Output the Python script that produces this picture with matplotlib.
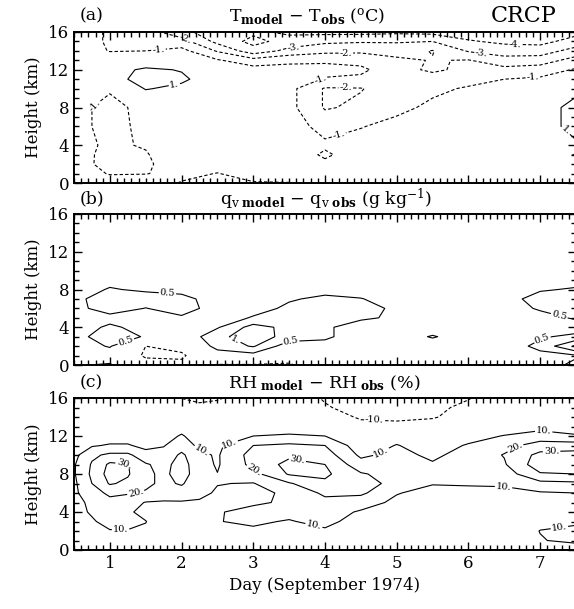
import matplotlib
matplotlib.use('Agg')
import matplotlib.pyplot as plt
import numpy as np
from matplotlib.ticker import MultipleLocator

plt.rcParams['font.family'] = 'DejaVu Serif'
plt.rcParams['mathtext.fontset'] = 'dejavuserif'
plt.rcParams['lines.dashed_pattern'] = [3, 2]

# (a) T_model - T_obs (C), one height profile per day column
days_a = [0.5, 1.0, 1.5, 2.0, 2.5, 3.0, 3.5, 4.0, 4.5, 5.0, 5.5, 6.0, 6.5, 7.0, 7.5]
heights_a = [0, 1, 2, 3, 4, 6, 8, 10, 11, 12, 13, 14, 15, 16]
temp_a = [
    [0.0, -0.2, -0.5, -0.6, -0.6, -0.6, -0.6, -0.3, 0.0, 0.1, -0.1, -0.4, -0.6, -0.8],
    [-0.3, -1.1, -1.4, -1.3, -1.2, -1.4, -1.4, -0.85, 0.4, 0.3, -0.4, -1.05, -1.1, -1.05],
    [-0.2, -1.05, -1.2, -1.1, -0.9, -0.7, -0.6, 1.1, 1.6, 1.3, -0.2, -1.0, -1.3, -1.6],
    [-1.1, -0.6, -0.3, -0.1, 0.0, 0.0, 0.0, 0.6, 1.3, 0.9, -0.3, -0.7, -1.6, -2.6],
    [-1.15, -1.05, -0.4, -0.1, 0.0, 0.0, 0.0, 0.0, 0.0, -0.4, -0.9, -2.1, -3.3, -3.8],
    [-1.1, -0.4, -0.2, 0.0, 0.0, 0.0, 0.0, -0.2, -0.3, -0.6, -1.6, -3.6, -4.3, -3.8],
    [-1.05, -0.3, -0.3, -0.4, -0.4, -0.6, -0.7, -0.7, -0.6, -0.7, -1.2, -2.7, -3.6, -4.2],
    [-0.3, -0.5, -0.8, -1.15, -0.85, -1.3, -2.1, -2.1, -1.05, -0.8, -1.1, -2.3, -3.2, -4.3],
    [-0.2, -0.3, -0.4, -0.5, -0.6, -1.05, -1.8, -2.05, -1.2, -0.8, -1.3, -2.2, -3.1, -4.3],
    [-0.1, -0.1, -0.2, -0.3, -0.4, -0.7, -1.25, -1.5, -1.5, -1.6, -1.8, -2.4, -3.1, -4.2],
    [0.0, 0.0, -0.1, -0.2, -0.2, -0.4, -0.8, -1.2, -1.5, -2.2, -2.05, -1.95, -3.0, -4.3],
    [0.0, 0.0, -0.1, -0.1, -0.2, -0.3, -0.5, -0.9, -1.3, -1.7, -1.95, -3.1, -3.9, -4.5],
    [0.0, 0.0, 0.0, -0.1, -0.1, -0.2, -0.4, -0.7, -1.0, -1.7, -2.6, -3.5, -4.2, -4.6],
    [0.0, 0.0, -0.1, -0.3, 0.2, 0.3, 0.3, -0.6, -0.85, -1.5, -2.5, -3.5, -4.3, -4.6],
    [0.0, 0.0, -0.4, -1.1, 0.8, 1.5, 1.5, 0.6, 0.0, -0.9, -1.6, -2.6, -3.6, -4.3],
]

# (b) qv_model - qv_obs (g/kg)
days_b = [0.5, 1.0, 1.5, 2.0, 2.5, 3.0, 3.5, 4.0, 4.5, 5.0, 5.5, 6.0, 6.5, 7.0, 7.5]
heights_b = [0, 1, 2, 3, 4, 5, 6, 7, 8, 10, 16]
qv_b = [
    [0.45, 0.1, 0.2, 0.3, 0.2, 0.2, 0.3, 0.3, 0.2, 0.0, 0.0],
    [0.56, 0.2, 0.55, 0.8, 0.6, 0.3, 0.8, 0.9, 0.55, 0.1, 0.0],
    [-0.2, -0.6, -0.5, 0.45, 0.3, 0.2, 0.48, 0.8, 0.4, 0.1, 0.0],
    [-0.35, -0.6, -0.3, 0.1, 0.2, 0.4, 0.8, 0.7, 0.3, 0.0, 0.0],
    [-0.55, 0.2, 0.7, 0.85, 0.45, 0.2, 0.2, 0.2, 0.1, 0.0, 0.0],
    [-0.55, 0.3, 1.05, 1.3, 1.2, 0.55, 0.3, 0.2, 0.1, 0.0, 0.0],
    [-0.6, -0.1, 0.2, 0.8, 0.85, 0.8, 0.6, 0.45, 0.2, 0.0, 0.0],
    [0.1, 0.2, 0.3, 0.6, 0.55, 0.7, 0.8, 0.6, 0.35, 0.0, 0.0],
    [0.1, 0.1, 0.2, 0.2, 0.35, 0.55, 0.7, 0.52, 0.3, 0.0, 0.0],
    [0.1, 0.1, 0.2, 0.2, 0.3, 0.45, 0.4, 0.3, 0.2, 0.0, 0.0],
    [0.1, 0.1, 0.2, 0.55, 0.2, 0.2, 0.2, 0.2, 0.1, 0.0, 0.0],
    [0.1, 0.1, 0.1, 0.2, 0.1, 0.1, 0.2, 0.2, 0.1, 0.0, 0.0],
    [0.2, 0.2, 0.3, 0.2, 0.1, 0.2, 0.3, 0.3, 0.2, 0.0, 0.0],
    [0.3, 0.4, 0.6, 0.45, 0.3, 0.35, 0.55, 0.7, 0.45, 0.1, 0.0],
    [0.6, 0.45, 1.6, 0.6, 0.3, 0.55, 0.7, 0.8, 0.55, 0.1, 0.0],
]

# (c) RH_model - RH_obs (%)
days_c = [0.5, 0.75, 1.0, 1.25, 1.5, 1.75, 2.0, 2.25, 2.5, 3.0, 3.5, 4.0,
          4.5, 5.0, 5.5, 6.0, 6.5, 7.0, 7.5]
heights_c = [0, 1, 2, 3, 4, 5, 6, 7, 8, 9, 10, 11, 12, 13, 14, 15, 16]
rh_c = [
    [2, 3, 4, 6, 7, 7, 8, 8, 9, 9, 7, 4, 2, 0, 0, -2, -3],
    [2, 4, 6, 9, 11, 12, 16, 20, 22, 21, 18, 9, 4, 1, 0, -2, -3],
    [3, 6, 9.5, 13, 15, 17, 22, 31, 34, 32, 22, 11, 5, 2, 0, -2, -3],
    [2, 5, 9.5, 13, 11, 14, 21, 28, 31, 30.5, 22, 11, 5, 2, 0, -2, -3],
    [2, 5, 9, 10.2, 8, 9.5, 19, 22, 22, 21, 14, 7, 3, 1, 0, -2, -3],
    [2, 3, 4, 6, 7, 9, 15, 18, 18, 17, 13, 9.5, 6, 3, 0, -2, -3],
    [2, 3, 4, 5, 7, 9, 16, 21, 24, 24, 22, 15, 11, 6, 2, -4, -10.3],
    [2, 3, 4, 5, 7, 9, 12, 14, 15, 14, 12, 8, 5, 2, 0, -8, -12],
    [2, 4, 9.5, 9.8, 9.5, 8, 9, 10.3, 10.2, 9, 9, 8, 6, 3, 0, -7, -11],
    [2, 4, 9, 11, 12, 9, 7, 9.5, 17, 23, 24, 20, 10, 5, 2, -2, -5],
    [2, 4, 7, 9.5, 12, 11, 12, 19, 31, 33, 28, 22, 11, 6, 2, -2, -4],
    [3, 6, 9, 12, 14, 17, 22, 28, 32, 30, 25, 20, 10, 4, -2, -9, -11],
    [2, 3, 5, 7, 9, 14, 22, 28, 21, 14, 8, 4, 1, -5, -12, -14, -14],
    [1, 2, 3, 4, 6, 8, 10.5, 14, 16, 15, 13, 10.5, 6, -6, -13, -15, -15],
    [0, 1, 2, 3, 4, 5, 7, 10.5, 13, 11, 8, 5, 2, -5, -11, -12, -12],
    [0, 1, 2, 3, 4, 5, 7, 11, 14, 15, 14, 11, 6, 0, -5, -8, -10.5],
    [2, 3, 4, 5, 5, 6, 8, 11, 15, 19, 20.5, 17, 10.5, 4, 0, -3, -5],
    [6, 9.5, 10.2, 8, 6, 7, 9, 17, 29, 36, 33, 24, 15, 6, 2, -2, -6],
    [5, 12, 13, 8, 5, 6, 10, 18, 30, 36, 34, 25, 11, 5, 0, -6, -10.5],
]

levels_a = [-6, -5, -4, -3, -2, -1, 1, 2, 3]
levels_b = [-1.0, -0.5, 0.5, 1.0, 1.5]
levels_c = [-30, -20, -10, 10, 20, 30, 40]

# where the contour labels sit (day, km)
labels_a = [(1.67, 14.8), (2.04, 15.1), (3.56, 14.4), (4.29, 14.2), (6.18, 13.6),
            (6.65, 14.65), (1.9, 10.4), (0.8, 8.1), (3.93, 11.1), (4.29, 10.0),
            (4.15, 6.2), (6.9, 10.9), (7.28, 4.9)]
labels_b = [(1.8, 7.2), (1.24, 2.1), (2.72, 2.2), (3.52, 2.9), (7.28, 5.6),
            (7.02, 3.0)]
labels_c = [(1.2, 9.2), (1.36, 6.1), (1.15, 2.0), (2.27, 10.3), (2.67, 11.2),
            (3.02, 8.5), (3.6, 8.8), (3.84, 2.4), (4.85, 9.3), (4.69, 13.8),
            (7.05, 12.56), (6.65, 10.8), (7.16, 10.3), (6.49, 6.77), (7.28, 1.7)]


def fmt(v):
    if float(v).is_integer():
        return '%d.' % v
    return '%g' % v


fig = plt.figure(figsize=(5.74, 6.09), dpi=100)
left, width = 74 / 574, 502 / 574
ax_a = fig.add_axes([left, 1 - 183 / 609, width, 151 / 609])
ax_b = fig.add_axes([left, 1 - 365 / 609, width, 151 / 609])
ax_c = fig.add_axes([left, 1 - 550 / 609, width, 152 / 609])

panels = [
    (ax_a, days_a, heights_a, temp_a, levels_a, labels_a),
    (ax_b, days_b, heights_b, qv_b, levels_b, labels_b),
    (ax_c, days_c, heights_c, rh_c, levels_c, labels_c),
]

for ax, dd, hts, cols, lev, lab in panels:
    z = np.array(cols, dtype=float).T
    styles = ['dashed' if l < 0 else 'solid' for l in lev]
    cs = ax.contour(dd, hts, z, levels=lev, colors='black',
                    linewidths=0.8, linestyles=styles)
    ax.clabel(cs, fmt=fmt, fontsize=7, inline=True, inline_spacing=1, manual=lab)

    ax.set_xlim(0.5, 7.5)
    ax.set_ylim(0, 16)
    ax.set_yticks([0, 4, 8, 12, 16])
    ax.yaxis.set_minor_locator(MultipleLocator(1))
    ax.set_xticks(range(1, 8))
    ax.xaxis.set_minor_locator(MultipleLocator(0.1))
    ax.tick_params(which='both', direction='in', top=True, right=True, width=1)
    ax.tick_params(which='major', length=6, labelsize=12)
    ax.tick_params(which='minor', length=3.5)
    for s in ax.spines.values():
        s.set_linewidth(1.4)
    ax.set_ylabel('Height (km)', fontsize=12, labelpad=4)

ax_a.set_xticklabels([])
ax_b.set_xticklabels([])
ax_c.set_xlabel('Day (September 1974)', fontsize=12, labelpad=4)

# panel titles
fig.text(80 / 574, 1 - 16 / 609, '(a)', fontsize=12.5, va='center', ha='left')
fig.text(307 / 574, 1 - 16 / 609,
         r'T$_{\mathbf{model}}$ $-$ T$_{\mathbf{obs}}$ ($^{\rm o}$C)',
         fontsize=12.5, va='center', ha='center')
fig.text(524 / 574, 1 - 16 / 609, 'CRCP', fontsize=16, va='center', ha='center')

fig.text(80 / 574, 1 - 199 / 609, '(b)', fontsize=12.5, va='center', ha='left')
fig.text(326 / 574, 1 - 199 / 609,
         r'q$_{\mathrm{v}\ \mathbf{model}}$ $-$ q$_{\mathrm{v}\ \mathbf{obs}}$ (g kg$^{-1}$)',
         fontsize=12.5, va='center', ha='center')

fig.text(80 / 574, 1 - 383 / 609, '(c)', fontsize=12.5, va='center', ha='left')
fig.text(324 / 574, 1 - 383 / 609,
         r'RH$_{\ \mathbf{model}}$ $-$ RH$_{\ \mathbf{obs}}$ (%)',
         fontsize=12.5, va='center', ha='center')

fig.savefig('out.png', dpi=100)
